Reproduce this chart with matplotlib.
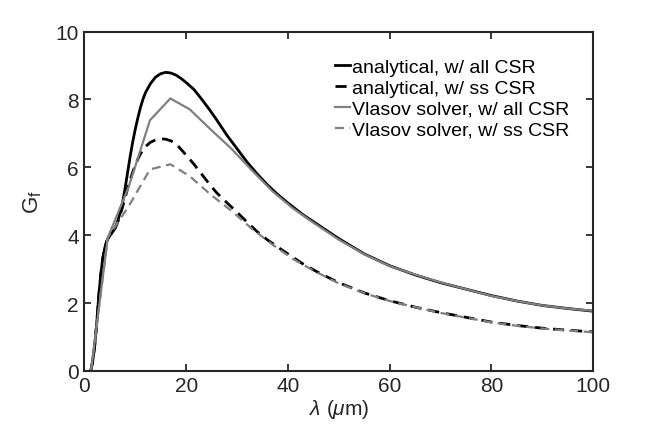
import numpy as np
import matplotlib
matplotlib.use("Agg")
import matplotlib.pyplot as plt

plt.rcParams['font.family'] = ['Liberation Sans', 'DejaVu Sans']
plt.rcParams['mathtext.fontset'] = 'custom'
plt.rcParams['mathtext.rm'] = 'Liberation Sans'
plt.rcParams['mathtext.it'] = 'Liberation Sans:italic'

# analytical curves (smooth)
lam_an = [1.25, 1.6, 2.0, 2.4, 2.8, 3.2, 3.6, 4.0, 4.4, 4.8, 5.4, 6.0, 6.5,
          7.0, 7.5, 8.0, 8.5, 9.0, 9.5, 10.0, 10.5, 11.0, 11.5, 12.0, 13.0,
          14.0, 15.0, 16.0, 17.0, 18.0, 19.0, 20.0, 21.5, 23.0, 24.5, 26.0,
          28.0, 30.0, 32.0, 34.0, 36.0, 38.0, 40.0, 43.0, 46.0, 50.0, 55.0,
          60.0, 65.0, 70.0, 75.0, 80.0, 85.0, 90.0, 95.0, 100.0]
g_an_all = [0, 0.25, 0.7, 1.35, 2.15, 2.8, 3.3, 3.62, 3.82, 3.95, 4.06, 4.2, 4.38,
            4.65, 4.95, 5.38, 5.85, 6.32, 6.75, 7.12, 7.45, 7.75, 8.0, 8.2, 8.47,
            8.66, 8.76, 8.8, 8.78, 8.72, 8.62, 8.5, 8.3, 8.02, 7.72, 7.4,
            6.95, 6.55, 6.15, 5.8, 5.48, 5.2, 4.95, 4.6, 4.3, 3.9, 3.45,
            3.1, 2.83, 2.6, 2.41, 2.22, 2.06, 1.93, 1.84, 1.76]
g_an_ss = [0, 0.25, 0.7, 1.35, 2.15, 2.8, 3.3, 3.62, 3.82, 3.95, 4.06, 4.2, 4.36,
           4.58, 4.83, 5.1, 5.38, 5.63, 5.86, 6.06, 6.24, 6.39, 6.51, 6.61, 6.74,
           6.81, 6.84, 6.83, 6.78, 6.69, 6.53, 6.36, 6.1, 5.81, 5.52, 5.25,
           4.96, 4.68, 4.38, 4.1, 3.86, 3.65, 3.45, 3.15, 2.9, 2.6, 2.3,
           2.07, 1.88, 1.72, 1.58, 1.44, 1.34, 1.26, 1.2, 1.15]

# Vlasov solver results (coarser grid)
lam_vl = [1.3, 4.6, 8.7, 12.9, 16.9, 20.7, 24.8, 28.9, 33.0, 37.0, 41.0, 45.0,
          50.0, 55.0, 60.0, 65.0, 70.0, 75.0, 80.0, 85.0, 90.0, 95.0, 100.0]
g_vl_all = [0, 3.93, 5.42, 7.39, 8.03, 7.71, 7.12, 6.55, 5.9, 5.29, 4.79, 4.37,
            3.87, 3.44, 3.09, 2.84, 2.61, 2.41, 2.21, 2.06, 1.93, 1.84, 1.77]
g_vl_ss = [0, 3.93, 4.85, 5.94, 6.09, 5.74, 5.2, 4.72, 4.18, 3.72, 3.3, 2.96,
           2.58, 2.29, 2.06, 1.88, 1.71, 1.57, 1.43, 1.33, 1.25, 1.19, 1.14]

labels = ['analytical, w/ all CSR', 'analytical, w/ ss CSR',
          'Vlasov solver, w/ all CSR', 'Vlasov solver, w/ ss CSR']

fig = plt.figure(figsize=(6.54, 4.35), dpi=100)
ax = fig.add_axes([0.129, 0.145, 0.778, 0.78])

grey = '#808080'
ax.plot(lam_an, g_an_all, color='black', lw=2.0, label=labels[0])
ax.plot(lam_an, g_an_ss, color='black', lw=2.0, dashes=(4, 2.5), label=labels[1])
ax.plot(lam_vl, g_vl_all, color=grey, lw=1.6, label=labels[2])
ax.plot(lam_vl, g_vl_ss, color=grey, lw=1.6, dashes=(4, 2.5), label=labels[3])

ax.set_xlim(0, 100)
ax.set_ylim(0, 10)
ax.set_xticks([0, 20, 40, 60, 80, 100])
ax.set_yticks([0, 2, 4, 6, 8, 10])

for s in ax.spines.values():
    s.set_linewidth(1.5)
    s.set_color('#262626')
ax.tick_params(direction='in', length=5, width=1.3, top=True, right=True,
               labelsize=15, colors='#262626', pad=4)

ax.set_xlabel(r'$\lambda$ ($\mu$m)', fontsize=15, color='#262626', labelpad=1)
ax.set_ylabel(r'G$_\mathrm{f}$', fontsize=16, color='#262626', labelpad=8)

ax.legend(loc='upper right', bbox_to_anchor=(0.952, 0.922), frameon=False,
          fontsize=14, handlelength=0.75, handletextpad=0.1,
          labelspacing=0.17, borderaxespad=0, borderpad=0)

fig.savefig('out.png', dpi=100)
